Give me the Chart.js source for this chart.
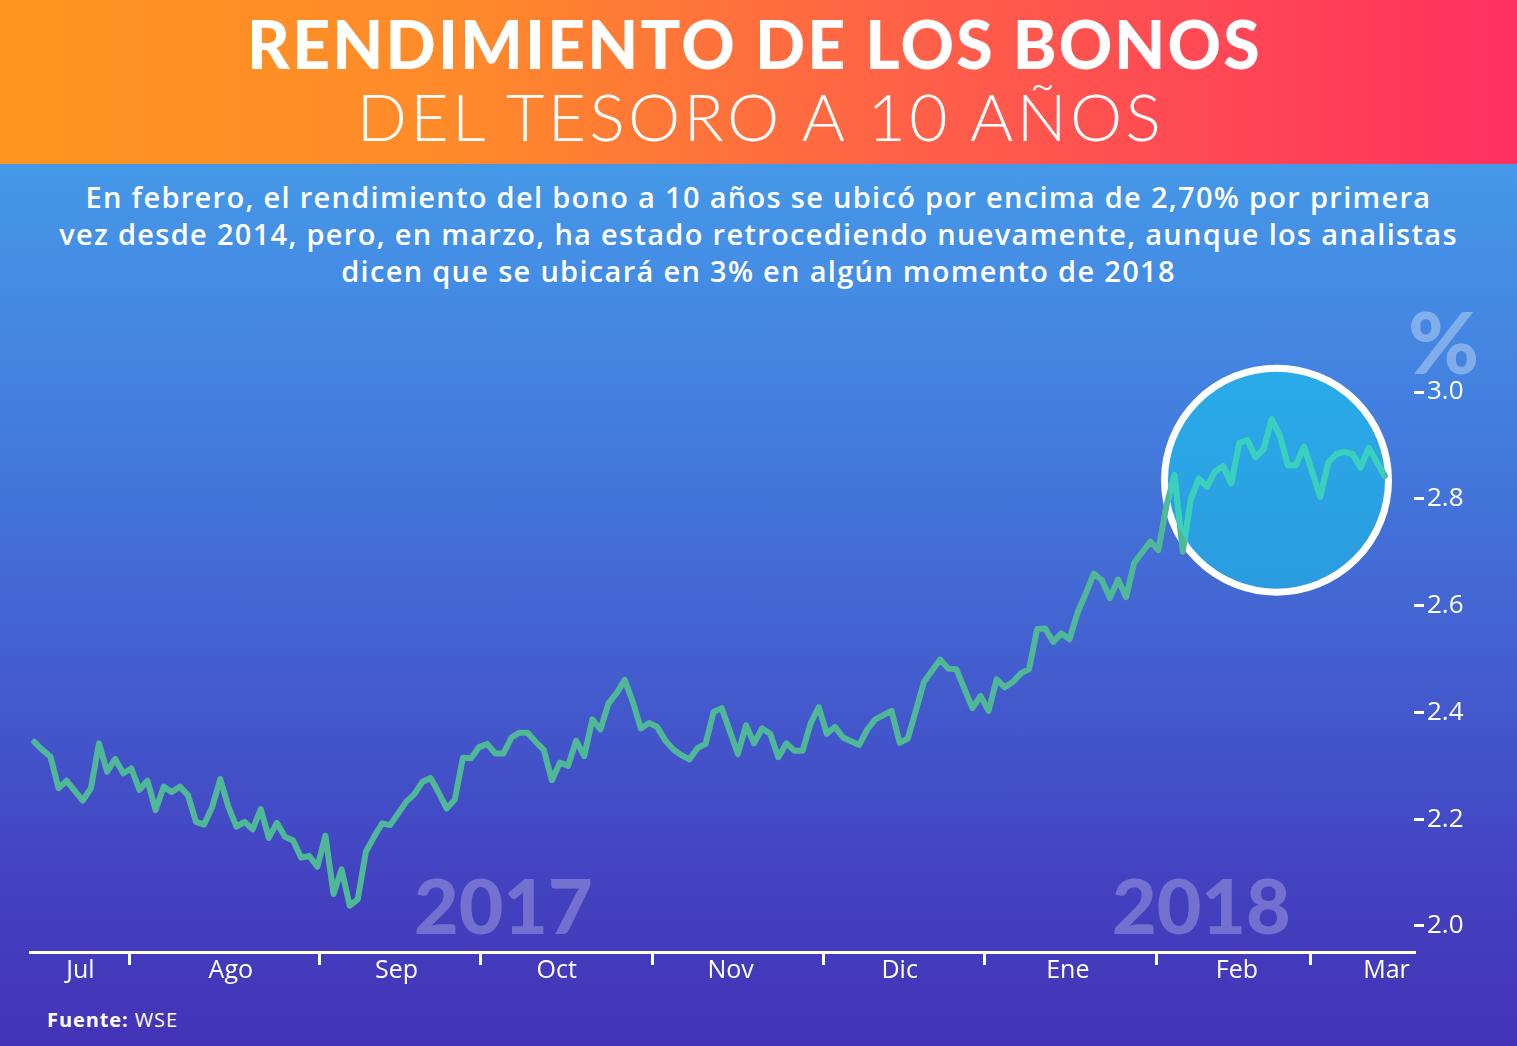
<!DOCTYPE html>
<html><head><meta charset="utf-8">
<script src="https://cdn.jsdelivr.net/npm/chart.js@4.4.1/dist/chart.umd.min.js"></script>
<style>
html,body{margin:0;padding:0;}
body{width:1517px;height:1046px;position:relative;overflow:hidden;font-family:'Lato',sans-serif;
 background:linear-gradient(180deg,#4598e8 165px,#4380e0 400px,#4360d0 650px,#4340c0 900px,#4433b6 1046px);}
#header{position:absolute;left:0;top:0;width:1517px;height:164px;background:linear-gradient(90deg,#ff951f 0%,#ff8a2a 30%,#ff5a4c 65%,#ff3060 100%);}
.t1{position:absolute;left:0;width:1517px;text-align:center;color:#fff;white-space:nowrap;}
#title1{top:4px;left:-4px;font-size:66px;font-weight:900;letter-spacing:2.2px;}
#title2{top:76px;left:2px;font-size:66px;font-weight:300;letter-spacing:3.4px;}
#sub{position:absolute;left:0;top:178px;width:1517px;text-align:center;color:#fff;font-family:'Open Sans',sans-serif;font-size:29px;font-weight:600;line-height:37px;white-space:nowrap;letter-spacing:1.3px;}
.wm{position:absolute;color:rgba(255,255,255,0.26);font-weight:900;font-size:77px;line-height:1;}
#src{position:absolute;left:47px;top:1006px;color:#fff;font-family:'Open Sans',sans-serif;font-size:20px;letter-spacing:0.9px;}
canvas{position:absolute;left:0;top:0;}
</style></head>
<body>
<div id="header"></div>
<div class="t1" id="title1">RENDIMIENTO DE LOS BONOS</div>
<div class="t1" id="title2">DEL TESORO A 10 AÑOS</div>
<div id="sub">En febrero, el rendimiento del bono a 10 años se ubicó por encima de 2,70% por primera<br>vez desde 2014, pero, en marzo, ha estado retrocediendo nuevamente, aunque los analistas<br>dicen que se ubicará en 3% en algún momento de 2018</div>
<div class="wm" style="left:414px;top:866px;">2017</div>
<div class="wm" style="left:1112px;top:866px;">2018</div>
<div class="wm" style="left:1408px;top:298px;font-size:86px;color:rgba(255,255,255,0.33);">%</div>
<div id="src"><b>Fuente:</b> WSE</div>
<canvas id="c" width="1517" height="1046"></canvas>
<script>
// trading-day series (index = trading day from mid-July 2017 to mid-March 2018)
const yields = [
2.345,2.330,2.317,2.258,2.272,2.253,2.235,2.258,2.342,2.289,
2.313,2.286,2.295,2.255,2.272,2.217,2.261,2.251,2.261,2.245,
2.195,2.190,2.223,2.275,2.223,2.186,2.195,2.181,2.219,2.165,
2.193,2.167,2.160,2.128,2.131,2.111,2.169,2.060,2.106,2.038,
2.050,2.139,2.167,2.192,2.189,2.211,2.233,2.247,2.270,2.277,
2.250,2.220,2.237,2.315,2.314,2.335,2.341,2.323,2.323,2.353,
2.362,2.362,2.345,2.330,2.273,2.306,2.300,2.347,2.318,2.387,
2.368,2.417,2.436,2.461,2.420,2.370,2.380,2.373,2.348,2.331,
2.320,2.312,2.333,2.341,2.401,2.408,2.365,2.322,2.376,2.342,
2.370,2.360,2.316,2.342,2.328,2.328,2.380,2.410,2.360,2.373,
2.353,2.346,2.339,2.368,2.387,2.395,2.403,2.343,2.351,2.403,
2.457,2.478,2.499,2.482,2.481,2.445,2.408,2.431,2.403,2.462,
2.447,2.457,2.473,2.481,2.556,2.557,2.532,2.548,2.537,2.587,
2.622,2.660,2.648,2.614,2.649,2.616,2.680,2.700,2.720,2.704,
2.788,2.845,2.701,2.799,2.838,2.823,2.851,2.861,2.829,2.905,
2.910,2.878,2.893,2.949,2.919,2.863,2.863,2.898,2.851,2.804,
2.868,2.884,2.888,2.884,2.859,2.895,2.869,2.843
];
const dayIndex = yields.map((_, i) => i);
const monthNames = ['Jul','Ago','Sep','Oct','Nov','Dic','Ene','Feb','Mar'];
const monthLabelAt = [5.7, 24.3, 44.8, 64.6, 86.1, 107.0, 127.8, 148.7, 167.2];
const monthBoundaryAt = [11.8, 35.3, 55.2, 76.4, 97.6, 117.5, 138.8, 157.8];
const yTickValues = [2.0, 2.2, 2.4, 2.6, 2.8, 3.0];
const highlightAt = [153.6, 2.835]; // day index, yield

const LINE = '#4fb896';
const LINE_HI = '#3ad0c0';

const highlight = {
  id: 'highlight',
  beforeDatasetsDraw(chart) {
    const {ctx, scales: {x, y}} = chart;
    const cx = x.getPixelForValue(highlightAt[0]), cy = y.getPixelForValue(highlightAt[1]);
    ctx.save();
    const g = ctx.createLinearGradient(0, cy - 112, 0, cy + 112);
    g.addColorStop(0, '#29abe8'); g.addColorStop(1, '#2b9be0');
    ctx.beginPath(); ctx.arc(cx, cy, 112, 0, Math.PI * 2);
    ctx.fillStyle = g; ctx.fill();
    ctx.lineWidth = 7; ctx.strokeStyle = '#ffffff'; ctx.stroke();
    ctx.restore();
  },
  afterDatasetsDraw(chart) {
    const {ctx, scales: {x, y}} = chart;
    const cx = x.getPixelForValue(highlightAt[0]), cy = y.getPixelForValue(highlightAt[1]);
    const pts = chart.getDatasetMeta(0).data;
    ctx.save();
    ctx.beginPath(); ctx.arc(cx, cy, 108.5, 0, Math.PI * 2); ctx.clip();
    ctx.beginPath();
    pts.forEach((p, i) => i ? ctx.lineTo(p.x, p.y) : ctx.moveTo(p.x, p.y));
    ctx.lineWidth = 6; ctx.lineJoin = 'round'; ctx.lineCap = 'round';
    ctx.strokeStyle = LINE_HI; ctx.stroke();
    ctx.restore();
  }
};

new Chart(document.getElementById('c'), {
  type: 'line',
  data: { datasets: [{
    data: dayIndex.map((d, i) => ({x: d, y: yields[i]})),
    borderColor: LINE, borderWidth: 6, pointRadius: 0, tension: 0,
    borderJoinStyle: 'round', borderCapStyle: 'round', clip: false
  }]},
  options: {
    responsive: false, animation: false, devicePixelRatio: 1,
    layout: { padding: { left: 30, right: 0, top: 360, bottom: 44 } },
    plugins: { legend: { display: false }, tooltip: { enabled: false } },
    scales: {
      x: {
        type: 'linear', min: -0.53, max: 170.6,
        afterBuildTicks: (a) => { a.ticks = [...monthBoundaryAt, ...monthLabelAt].sort((p, q) => p - q).map(v => ({value: v})); },
        afterFit: (a) => { a.height = 50; },
        border: { display: true, color: '#ffffff', width: 3 },
        grid: { display: true, drawOnChartArea: false, drawTicks: true, tickLength: 13, lineWidth: 3,
          color: (c) => (c.tick && monthBoundaryAt.includes(c.tick.value)) ? '#ffffff' : 'rgba(0,0,0,0)' },
        ticks: { autoSkip: false, maxRotation: 0, minRotation: 0, padding: -9, color: '#ffffff',
          font: { family: 'Open Sans', size: 25, weight: '500' },
          callback: (v) => { const k = monthLabelAt.indexOf(v); return k >= 0 ? monthNames[k] : ''; } }
      },
      y: {
        type: 'linear', position: 'right', min: 1.9513, max: 3.06,
        afterBuildTicks: (a) => { a.ticks = yTickValues.map(v => ({value: v})); },
        afterFit: (a) => { a.width = 103; },
        border: { display: false },
        grid: { display: true, drawOnChartArea: false, drawTicks: true, tickLength: 10, lineWidth: 3, color: '#ffffff' },
        ticks: { padding: 3, color: '#ffffff', font: { family: 'Open Sans', size: 26, weight: '500' },
          callback: (v) => v.toFixed(1) }
      }
    }
  },
  plugins: [highlight]
});
</script>
</body></html>
